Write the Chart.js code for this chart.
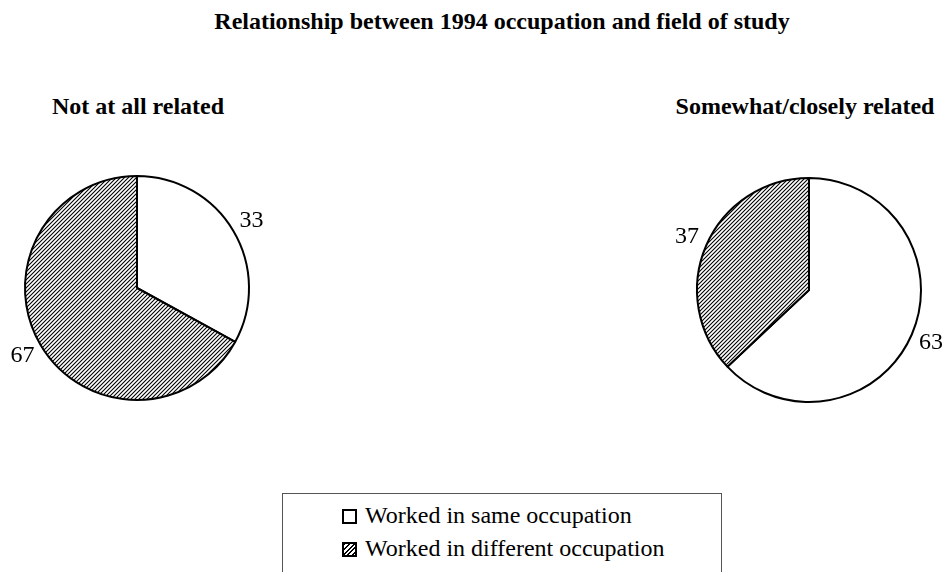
<!DOCTYPE html>
<html>
<head>
<meta charset="utf-8">
<script src="https://cdn.jsdelivr.net/npm/chart.js@4"></script>
<style>
  html, body { margin: 0; padding: 0; background: #fff; }
  body { width: 943px; height: 572px; position: relative; overflow: hidden; font-family: "Liberation Serif", "Times New Roman", serif; color: #000; }
  .title { position: absolute; left: 0; width: 1004px; top: 6px; text-align: center; font-weight: bold; font-size: 24px; line-height: 30px; }
  .sub { position: absolute; width: 400px; text-align: center; font-weight: bold; font-size: 24px; line-height: 30px; top: 91px; }
  canvas { position: absolute; }
  #legend { position: absolute; left: 282px; top: 493px; width: 440px; height: 120px; border: 1px solid #555; box-sizing: border-box; }
  .item { position: absolute; left: 59px; font-size: 24px; line-height: 28px; white-space: nowrap; }
  .box { display: inline-block; width: 11px; height: 11px; border: 2px solid #000; margin-right: 8px; vertical-align: -1px; background: #fff; }
  .box.hatch { background: repeating-linear-gradient(135deg, #000 0 1.4px, #fff 1.4px 3.2px); }
</style>
</head>
<body>
<div class="title" id="title"></div>
<div class="sub" id="sub0" style="left:-62px"></div>
<div class="sub" id="sub1" style="left:605px"></div>
<canvas id="pie0" width="274" height="300" style="left:0px; top:138px"></canvas>
<canvas id="pie1" width="300" height="300" style="left:659px; top:140px"></canvas>
<div id="legend"></div>

<script>
// data
const chartTitle = 'Relationship between 1994 occupation and field of study';
const categories = ['Worked in same occupation', 'Worked in different occupation'];
const panelTitles = ['Not at all related', 'Somewhat/closely related'];
const notRelated = [33, 67];
const related = [63, 37];

// diagonal hatch for the "different occupation" slice
const makeHatch = () => {
    const c = document.createElement('canvas');
    c.width = 4; c.height = 4;
    const g = c.getContext('2d');
    g.fillStyle = '#fff';
    g.fillRect(0, 0, 4, 4);
    g.strokeStyle = '#000';
    g.lineWidth = 1.1;
    g.beginPath();
    g.moveTo(-1, 5); g.lineTo(5, -1);
    g.moveTo(-1, 1); g.lineTo(1, -1);
    g.moveTo(3, 5); g.lineTo(5, 3);
    g.stroke();
    return g.createPattern(c, 'repeat');
};
const hatch = makeHatch();

// value labels outside each slice
const valueLabels = {
    id: 'valueLabels',
    afterDatasetsDraw(chart) {
        const ctx = chart.ctx;
        const meta = chart.getDatasetMeta(0);
        ctx.save();
        ctx.font = '24px "Liberation Serif"';
        ctx.fillStyle = '#000';
        ctx.textAlign = 'center';
        ctx.textBaseline = 'middle';
        meta.data.forEach((arc, i) => {
            const mid = (arc.startAngle + arc.endAngle) / 2;
            const r = arc.outerRadius + 21;
            ctx.fillText(chart.data.datasets[0].data[i], arc.x + Math.cos(mid) * r, arc.y + Math.sin(mid) * r);
        });
        ctx.restore();
    }
};

const drawPie = (id, values) => {
    new Chart(document.getElementById(id), {
        type: 'pie',
        data: {
            labels: categories,
            datasets: [{
                data: values,
                backgroundColor: ['#fff', hatch],
                borderColor: '#000',
                borderWidth: 2
            }]
        },
        options: {
            responsive: false,
            animation: false,
            radius: 112,
            layout: { padding: 0 },
            plugins: {
                legend: { display: false },
                tooltip: { enabled: false }
            }
        },
        plugins: [valueLabels]
    });
};

document.getElementById('title').textContent = chartTitle;
document.getElementById('sub0').textContent = panelTitles[0];
document.getElementById('sub1').textContent = panelTitles[1];

drawPie('pie0', notRelated);
drawPie('pie1', related);

// legend box under the pies
const legend = document.getElementById('legend');
categories.forEach((name, i) => {
    const row = document.createElement('div');
    row.className = 'item';
    row.style.top = (7 + i * 33) + 'px';
    const box = document.createElement('span');
    box.className = i === 1 ? 'box hatch' : 'box';
    row.appendChild(box);
    row.appendChild(document.createTextNode(name));
    legend.appendChild(row);
});
</script>
</body>
</html>
